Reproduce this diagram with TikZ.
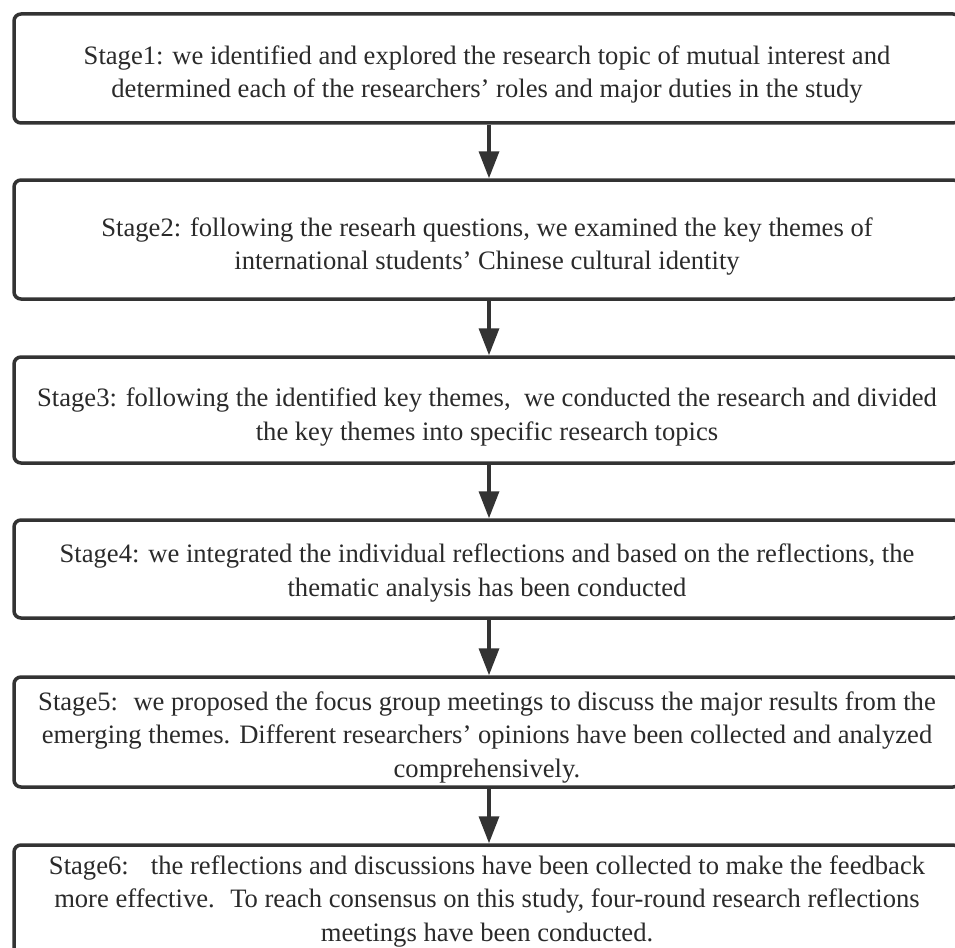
\documentclass[tikz,border=0pt]{standalone}
\usepackage{fontspec}
\setmainfont{Liberation Serif}
\usetikzlibrary{arrows.meta}
\definecolor{edge}{HTML}{333333}
\definecolor{ink}{HTML}{2A2A2A}
\tikzset{
  stagebox/.style={draw=edge, line width=3.5pt, rounded corners=7pt, fill=white,
    minimum width=946pt, inner sep=0pt},
  stagetext/.style={inner sep=0pt, align=center, text=ink,
    font=\fontsize{26.6}{33.5}\selectfont},
  flow/.style={draw=edge, line width=3.5pt, -{Triangle[width=20pt,length=27pt]}}
}
\begin{document}
\begin{tikzpicture}[x=1pt,y=1pt]
\useasboundingbox (0,0) rectangle (955,-947);
\node[stagebox, minimum height=109pt] (s1) at (487,-68.5) {};
\node[stagebox, minimum height=119pt] (s2) at (487,-239.5) {};
\node[stagebox, minimum height=106pt] (s3) at (487,-410) {};
\node[stagebox, minimum height=98pt] (s4) at (487,-569) {};
\node[stagebox, minimum height=110pt] (s5) at (487,-732) {};
\node[stagebox, minimum height=116pt] (s6) at (487,-903) {};
\node[stagetext] (t1) at ([yshift=-6pt]s1.center)
  {Stage1: we identified and explored the research topic of mutual interest and\\
   determined each of the researchers’ roles and major duties in the study};
\node[stagetext] (t2) at ([yshift=-7pt]s2.center)
  {Stage2: following the researh questions, we examined the key themes of\\
   international students’ Chinese cultural identity};
\node[stagetext] (t3) at ([yshift=-7pt]s3.center)
  {Stage3: following the identified key themes,~ we conducted the research and divided\\
   the key themes into specific research topics};
\node[stagetext] (t4) at ([yshift=-4pt]s4.center)
  {Stage4: we integrated the individual reflections and based on the reflections, the\\
   thematic analysis has been conducted};
\node[stagetext] (t5) at ([yshift=-5pt]s5.center)
  {Stage5:~ we proposed the focus group meetings to discuss the major results from the\\
   emerging themes. Different researchers’ opinions have been collected and analyzed\\
   comprehensively.};
\node[stagetext] (t6) at ([yshift=2pt]s6.center)
  {Stage6:~~ the reflections and discussions have been collected to make the feedback\\
   more effective.~ To reach consensus on this study, four-round research reflections\\
   meetings have been conducted.};
\draw[flow] ([xshift=2pt]s1.south) -- ([xshift=2pt]s2.north);
\draw[flow] ([xshift=2pt]s2.south) -- ([xshift=2pt]s3.north);
\draw[flow] ([xshift=2pt]s3.south) -- ([xshift=2pt]s4.north);
\draw[flow] ([xshift=2pt]s4.south) -- ([xshift=2pt]s5.north);
\draw[flow] ([xshift=2pt]s5.south) -- ([xshift=2pt]s6.north);
\end{tikzpicture}
\end{document}
